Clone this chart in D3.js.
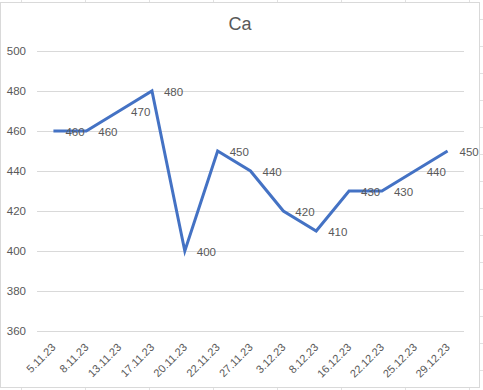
<!DOCTYPE html>
<html>
<head>
<meta charset="utf-8">
<script src="https://cdn.jsdelivr.net/npm/d3@7"></script>
<style>
    body { margin: 0; background: #fff; }
    text { font-family: "Liberation Sans", Arial, sans-serif; fill: #595959; }
</style>
</head>
<body>
<svg id="chart"></svg>
<script>
let dates = ["5.11.23", "8.11.23", "13.11.23", "17.11.23", "20.11.23", "22.11.23", "27.11.23",
    "3.12.23", "8.12.23", "16.12.23", "22.12.23", "25.12.23", "29.12.23"];
let values = [460, 460, 470, 480, 400, 450, 440, 420, 410, 430, 430, 440, 450];
let yTicks = [360, 380, 400, 420, 440, 460, 480, 500];
let title = "Ca";

let lineColor = "#4472c4";
let gridColor = "#d9d9d9";

let W = 483, H = 390;
let plot = {left: 37, right: 464, top: 51, bottom: 331};

let svg = d3.select("#chart")
    .attr("width", W)
    .attr("height", H);

// worksheet cells behind the chart
let sheet = svg.append("g");
for (let x = 21; x < W; x += 64) {
    sheet.append("line")
        .attr("x1", x + 0.5).attr("x2", x + 0.5)
        .attr("y1", 0).attr("y2", H)
        .style("stroke", "#e1e1e1");
}
for (let y = 19; y < H; y += 27) {
    sheet.append("line")
        .attr("x1", 0).attr("x2", W)
        .attr("y1", y + 0.5).attr("y2", y + 0.5)
        .style("stroke", "#e1e1e1");
}

// chart area
svg.append("rect")
    .attr("x", 0.5)
    .attr("y", 2.5)
    .attr("width", 479)
    .attr("height", 385)
    .style("fill", "#fff")
    .style("stroke", gridColor);

svg.append("text")
    .attr("x", 240)
    .attr("y", 30)
    .style("text-anchor", "middle")
    .style("font-size", "18px")
    .text(title);

let x = d3.scaleBand()
    .domain(dates)
    .range([plot.left, plot.right])
    .padding(0);

let y = d3.scaleLinear()
    .domain([360, 500])
    .range([plot.bottom, plot.top]);

function cx(d) {
    return x(d) + x.bandwidth() / 2;
}

// gridlines
svg.append("g")
    .selectAll("line")
    .data(yTicks)
    .enter()
    .append("line")
    .attr("x1", plot.left)
    .attr("x2", plot.right)
    .attr("y1", function (d) { return Math.round(y(d)) + 0.5; })
    .attr("y2", function (d) { return Math.round(y(d)) + 0.5; })
    .style("stroke", gridColor);

// y axis labels
svg.append("g")
    .selectAll("text")
    .data(yTicks)
    .enter()
    .append("text")
    .attr("x", 26)
    .attr("y", function (d) { return y(d); })
    .attr("dy", "0.35em")
    .style("text-anchor", "end")
    .style("font-size", "11.5px")
    .text(function (d) { return d; });

// x axis labels
svg.append("g")
    .selectAll("text")
    .data(dates)
    .enter()
    .append("text")
    .attr("transform", function (d) {
        return "translate(" + (cx(d) + 3) + "," + 348 + ") rotate(-45)";
    })
    .style("text-anchor", "end")
    .style("font-size", "11px")
    .text(function (d) { return d; });

let points = dates.map(function (d, i) {
    return {date: d, value: values[i]};
});

let line = d3.line()
    .x(function (d) { return cx(d.date); })
    .y(function (d) { return y(d.value); });

svg.append("path")
    .datum(points)
    .attr("d", line)
    .style("fill", "none")
    .style("stroke", lineColor)
    .style("stroke-width", 3)
    .style("stroke-linejoin", "miter");

// data labels, to the right of each point
svg.append("g")
    .selectAll("text")
    .data(points)
    .enter()
    .append("text")
    .attr("x", function (d) { return cx(d.date) + 12; })
    .attr("y", function (d) { return y(d.value) + 1; })
    .attr("dy", "0.35em")
    .style("font-size", "11.5px")
    .text(function (d) { return d.value; });
</script>
</body>
</html>
